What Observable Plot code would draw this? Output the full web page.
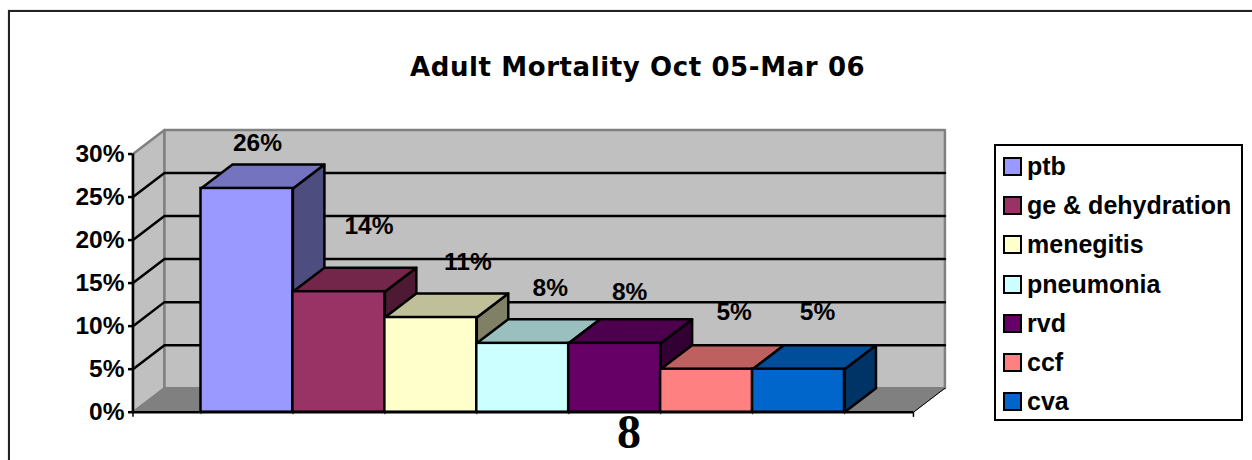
<!DOCTYPE html>
<html>
<head>
<meta charset="utf-8">
<script src="https://cdn.jsdelivr.net/npm/d3@7"></script>
<script src="https://cdn.jsdelivr.net/npm/@observablehq/plot@0.6"></script>
<style>
html,body{margin:0;padding:0;background:#fff;overflow:hidden}
#page{position:relative;width:1252px;height:460px;overflow:hidden;font-family:"Liberation Sans",Arial,sans-serif}
#page svg{position:absolute;left:0;top:0;background:transparent}
#frame{position:absolute;left:8px;top:10px;width:1300px;height:500px;border:2.5px solid #222;box-shadow:0 0 1px #888}
#title{position:absolute;left:410px;top:52px;width:455px;font:bold 26px "DejaVu Sans",sans-serif;letter-spacing:.6px;white-space:nowrap}
#page-no{position:absolute;left:617px;top:410px;font:bold 48px/44px "Liberation Serif",serif;color:#000}
#legend{position:absolute;left:994px;top:144px;width:245px;height:273px;border:2.5px solid #000;background:#fff}
.row{position:absolute;left:7px;display:flex;align-items:center;height:24px;font-weight:bold;font-size:25px;color:#000;white-space:nowrap}
.sw{box-sizing:border-box;width:19px;height:19px;border:2.5px solid #000;margin-right:5px}
</style>
</head>
<body>
<div id="page">
  <div id="frame"></div>
  <div id="title">Adult Mortality Oct 05-Mar 06</div>
  <div id="legend"></div>
  <div id="page-no">8</div>
</div>
<script>
const categories = ["ptb","ge & dehydration","menegitis","pneumonia","rvd","ccf","cva"];
const values = [26,14,11,8,8,5,5];
const frontColors = ["#9999FF","#993366","#FFFFCC","#CCFFFF","#660066","#FF8080","#0066CC"];
const topColors = ["#7373BF","#732649","#BFBF99","#99BFBF","#4D004D","#BF6060","#004D99"];
const sideColors = ["#4D4D80","#4D1933","#808066","#668080","#330033","#804040","#003366"];
const yTicks = [0,5,10,15,20,25,30];

// label offsets from the bar's top-centre, in pixels
const labelDx = [10.5,30,37,27.5,15,27.5,19];
const labelDy = [-45,-65.5,-55,-55,-51,-56.7,-56.7];

const xs = {domain:[0,7], range:[200.5,844]};
const ys = {domain:[0,30], range:[411.7,153.5]};
const depthX = 31.5/92, depthY = 24/8.606;
const floorL = -0.74, floorR = 7.75;

const poly = (pts, fill, stroke, strokeWidth) =>
  Plot.line(pts.map(([x,y]) => ({x,y})), {x:"x", y:"y", fill, stroke, strokeWidth, curve:"linear-closed"});

const marks = [];
// walls and floor
marks.push(poly([[floorL,0],[floorL,30],[floorL+depthX,30+depthY],[floorL+depthX,depthY]],"#C0C0C0","#808080",2.5));
marks.push(poly([[floorL+depthX,depthY],[floorL+depthX,30+depthY],[floorR+depthX,30+depthY],[floorR+depthX,depthY]],"#C0C0C0","#808080",2.5));
marks.push(poly([[floorL,0],[floorL+depthX,depthY],[floorR+depthX,depthY],[floorR,0]],"#808080","#808080",1));
// gridlines on side and back walls
for (const t of yTicks.slice(1,-1)) {
  marks.push(Plot.line([[floorL,t],[floorL+depthX,t+depthY],[floorR+depthX,t+depthY]].map(([x,y])=>({x,y})),
    {x:"x",y:"y",stroke:"#000",strokeWidth:2.5}));
}
// axes under the bars
marks.push(Plot.ruleX(d3.range(0,8),{x:d=>d,y1:0,y2:-0.3,stroke:"#555",strokeWidth:1}));
marks.push(Plot.ruleX([floorL,floorR],{x:d=>d,y1:0,y2:-0.6,stroke:"#000",strokeWidth:1.5}));
// bars
values.forEach((v,i) => {
  marks.push(poly([[i+1,0],[i+1+depthX,depthY],[i+1+depthX,v+depthY],[i+1,v]],sideColors[i],"#000",2.5));
  marks.push(poly([[i,v],[i+depthX,v+depthY],[i+1+depthX,v+depthY],[i+1,v]],topColors[i],"#000",2.5));
  marks.push(Plot.rect([{i,v}],{x1:d=>d.i,x2:d=>d.i+1,y1:0,y2:d=>d.v,fill:frontColors[i],stroke:"#000",strokeWidth:2.5}));
});
// axes
marks.push(Plot.ruleX([floorL],{y1:0,y2:30,stroke:"#000",strokeWidth:2.5}));
marks.push(Plot.ruleY([0],{x1:floorL,x2:floorR,stroke:"#000",strokeWidth:2.5}));
marks.push(Plot.line([[floorR,0],[floorR+depthX,depthY]].map(([x,y])=>({x,y})),{x:"x",y:"y",stroke:"#000",strokeWidth:1}));
marks.push(Plot.axisY({ticks:yTicks,tickFormat:d=>d+"%",tickSize:4,tickPadding:4,stroke:"#000",strokeWidth:2.5,
  fill:"#000",fontSize:24.5,fontWeight:"bold",fontFamily:"Liberation Sans",label:null,anchor:"left"}));
// data labels
values.forEach((v,i) => {
  marks.push(Plot.text([{i,v}],{x:d=>d.i+0.5,y:d=>d.v,text:d=>d.v+"%",dx:labelDx[i],dy:labelDy[i],
    fontSize:24.5,fontWeight:"bold",fontFamily:"Liberation Sans",fill:"#000",textAnchor:"middle"}));
});

const chart = Plot.plot({
  width:1252,height:460,marginLeft:132,marginRight:0,marginTop:0,marginBottom:0,
  x:{...xs,axis:null},y:{...ys},style:{background:"transparent",overflow:"visible"},
  marks
});
const page = document.getElementById("page");
page.insertBefore(chart, document.getElementById("title"));

const legend = document.getElementById("legend");
categories.forEach((c,i) => {
  const r = document.createElement("div");
  r.className = "row";
  r.style.top = (8.5 + i*39.2) + "px";
  const s = document.createElement("div");
  s.className = "sw"; s.style.background = frontColors[i];
  const t = document.createElement("span");
  t.textContent = c;
  r.append(s,t);
  legend.append(r);
});
</script>
</body>
</html>
